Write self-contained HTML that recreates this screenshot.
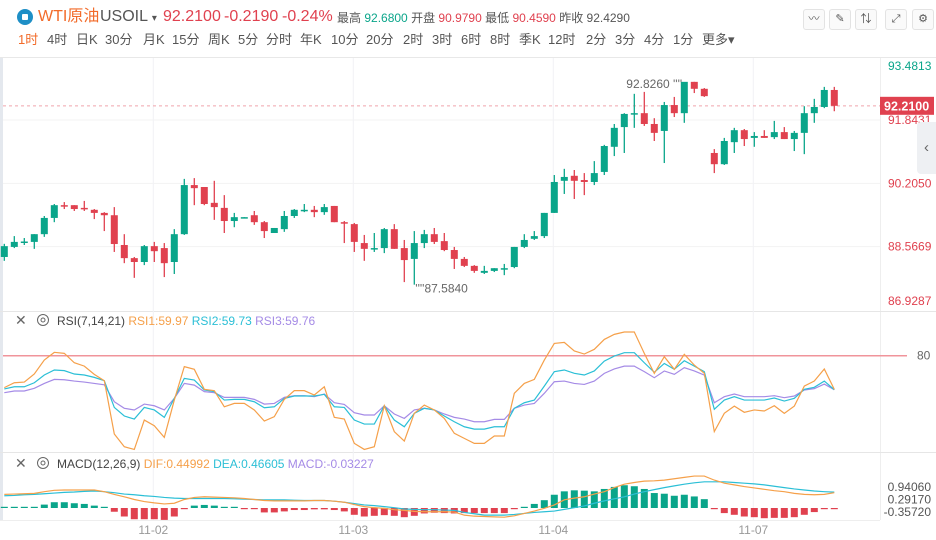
<!DOCTYPE html>
<html><head><meta charset="utf-8">
<style>
body{margin:0;width:936px;height:540px;overflow:hidden;background:#fff;font-family:"Liberation Sans","Noto Sans CJK SC",sans-serif;}
#root{position:relative;width:936px;height:540px;}
.t{position:absolute;white-space:nowrap;line-height:20px;}
.tab{position:absolute;top:31px;font-size:13px;color:#555;line-height:18px;}
.ib{position:absolute;top:9px;width:20px;height:19px;border:1px solid #e3e3e3;border-radius:3px;background:#fafafa;font-size:11px;color:#555;text-align:center;line-height:19px;}
svg{position:absolute;left:0;top:0;}
</style></head><body>
<div id="root">
<div class="t" style="left:17px;top:9px;width:16px;height:16px;border-radius:50%;background:#1e8fc6;"><div style="position:absolute;left:5px;top:5px;width:6px;height:6px;background:#fff;border-radius:1px"></div></div>
<div class="t" style="left:38px;top:7px;font-size:16px;color:#f26b2a;">WTI原油</div>
<div class="t" style="left:100px;top:7px;font-size:16px;color:#555;">USOIL <span style="font-size:10px">▾</span></div>
<div class="t" style="left:163px;top:7px;font-size:16px;color:#e0414f;">92.2100</div>
<div class="t" style="left:224px;top:7px;font-size:16px;color:#e0414f;">-0.2190</div>
<div class="t" style="left:282px;top:7px;font-size:16px;color:#e0414f;">-0.24%</div>
<div class="t" style="left:337px;top:8px;font-size:12px;color:#555;">最高 <span style="color:#0aa58a">92.6800</span> 开盘 <span style="color:#e0414f">90.9790</span> 最低 <span style="color:#e0414f">90.4590</span> 昨收 <span style="color:#555">92.4290</span></div>
<div class="ib" style="left:803px">〰</div>
<div class="ib" style="left:829px">✎</div>
<div class="ib" style="left:855px">⇅</div>
<div class="ib" style="left:885px">⤢</div>
<div class="ib" style="left:912px">⚙</div>
<div id="tabs"></div>
<svg id="chart" width="936" height="540"></svg>
<div class="t" style="left:917px;top:122px;width:19px;height:52px;background:#eef0f3;border-radius:4px 0 0 4px;color:#666;font-size:15px;line-height:52px;text-align:center;">‹</div>
</div>
<script>
// ---- data ----
const tabLabels=["1时","4时","日K","30分","月K","15分","周K","5分","分时","年K","10分","20分","2时","3时","6时","8时","季K","12时","2分","3分","4分","1分","更多▾"];
const opens=[88.30,88.56,88.69,88.69,88.89,89.31,89.64,89.64,89.57,89.52,89.44,89.38,88.61,88.27,88.17,88.58,88.53,88.17,88.89,90.16,90.11,89.70,89.57,89.23,89.32,89.38,89.20,88.92,89.02,89.36,89.50,89.52,89.46,89.62,89.20,89.15,88.66,88.52,88.53,89.02,88.53,88.25,88.66,88.89,88.71,88.48,88.25,88.07,87.89,87.94,88.00,88.04,88.56,88.77,88.84,89.44,90.27,90.40,90.29,90.24,90.50,91.15,91.66,92.00,92.02,91.74,91.56,92.23,92.02,92.83,92.65,90.99,90.70,91.27,91.58,91.38,91.43,91.40,91.53,91.35,91.51,92.02,92.18,92.62];
const highs=[88.64,88.84,88.79,88.89,89.36,89.67,89.72,89.64,89.75,89.54,89.46,89.59,88.89,88.30,88.61,88.69,88.66,89.02,90.32,90.34,90.11,90.27,89.90,89.44,89.33,89.49,89.23,89.05,89.49,89.54,89.67,89.62,89.67,89.62,89.23,89.18,88.87,88.92,89.05,89.15,88.74,88.97,89.00,89.05,88.92,88.56,88.30,88.09,88.07,88.01,88.12,88.56,88.89,88.97,89.44,90.42,90.58,90.55,90.47,90.78,91.20,91.74,92.02,92.52,92.57,91.89,92.31,92.44,92.826,92.83,92.67,91.09,91.38,91.64,91.61,91.53,91.58,91.82,91.66,91.56,92.20,92.39,92.70,92.70];
const lows=[88.20,88.53,88.61,88.51,88.82,89.20,89.54,89.49,89.49,89.28,88.97,88.43,88.14,87.76,88.09,88.17,87.78,87.86,88.87,89.64,89.64,89.26,88.92,89.07,89.31,89.13,88.79,88.92,88.95,89.31,89.46,89.33,89.39,89.20,88.66,88.43,88.20,88.43,88.40,88.51,87.65,87.584,88.53,88.635,88.45,87.99,88.04,87.89,87.86,87.91,87.83,88.01,88.53,88.74,88.79,89.44,89.93,89.80,89.90,90.16,90.42,90.91,90.99,91.64,91.69,91.30,90.73,91.92,91.77,92.54,92.44,90.47,90.68,90.99,91.17,91.15,91.38,91.35,91.35,91.04,90.96,91.77,92.15,92.07];
const closes=[88.58,88.69,88.70,88.89,89.31,89.64,89.62,89.54,89.54,89.44,89.38,88.635,88.27,88.17,88.58,88.45,88.14,88.89,90.16,90.08,89.67,89.59,89.23,89.33,89.33,89.20,88.97,89.05,89.36,89.52,89.52,89.46,89.59,89.20,89.18,88.69,88.51,88.53,89.02,88.51,88.22,88.66,88.89,88.69,88.48,88.25,88.07,87.94,87.94,88.01,88.01,88.56,88.74,88.84,89.44,90.24,90.37,90.27,90.24,90.47,91.17,91.64,92.00,92.02,91.74,91.51,92.23,92.02,92.83,92.65,92.46,90.70,91.30,91.58,91.35,91.43,91.38,91.53,91.35,91.51,92.02,92.18,92.62,92.21];
const rsi1=[61.0,63.9,64.3,69.1,77.4,82.0,81.4,75.8,73.8,68.9,65.1,33.4,25.8,24.2,41.7,38.3,31.4,53.6,73.5,71.9,60.0,59.2,49.6,51.6,51.6,47.7,41.1,43.7,54.0,59.2,59.2,56.6,61.5,43.3,42.3,27.8,24.2,25.8,50.2,34.8,29.2,45.7,50.6,47.7,42.7,33.8,30.8,27.8,27.8,32.2,32.2,57.6,63.5,65.9,77.4,87.3,87.9,82.8,81.0,83.8,89.7,92.7,94.1,94.1,81.4,69.5,79.4,71.9,80.8,74.4,69.5,34.8,45.7,50.0,46.3,47.7,47.1,50.2,45.7,50.0,61.9,64.9,72.1,59.97];
const rsi2=[60.2,61.5,61.5,63.9,68.5,71.5,71.1,69.1,68.5,67.1,65.1,49.2,44.1,42.3,49.2,47.7,43.3,54.6,66.5,65.5,59.6,58.6,53.6,54.0,54.0,52.6,49.0,49.6,54.6,56.0,56.0,56.0,57.0,49.6,49.2,41.7,39.3,39.3,50.2,41.7,37.7,45.7,48.7,47.7,44.1,40.7,37.7,36.3,36.3,37.7,37.7,48.7,52.0,53.6,61.9,70.5,71.5,69.5,68.5,70.9,76.8,79.8,81.8,81.8,75.8,70.1,75.4,71.9,77.0,73.8,70.5,48.1,53.6,55.6,53.6,53.6,53.6,54.8,53.0,54.6,60.0,61.2,64.9,59.73];
const rsi3=[58.0,59.0,59.0,60.6,63.5,65.9,65.7,64.9,64.3,63.5,62.7,52.6,48.7,47.7,51.2,50.2,47.7,54.6,63.5,62.5,58.6,58.0,55.2,55.2,55.2,54.0,51.2,51.6,55.2,56.2,56.2,55.6,57.2,52.0,51.0,46.1,44.7,44.7,50.2,45.3,42.7,47.7,48.7,47.7,45.3,43.3,42.3,40.7,40.7,42.1,42.1,48.7,50.6,51.6,57.6,64.5,64.9,63.5,62.9,64.9,69.5,72.1,73.8,73.8,70.5,66.9,70.9,68.9,72.9,70.9,68.5,52.0,55.6,57.2,55.6,55.6,55.6,56.2,55.0,56.0,59.6,60.4,63.1,59.76];
const dif=[0.40,0.41,0.42,0.43,0.48,0.52,0.53,0.53,0.53,0.53,0.48,0.40,0.33,0.25,0.19,0.15,0.12,0.14,0.25,0.31,0.33,0.32,0.31,0.30,0.28,0.25,0.22,0.21,0.21,0.21,0.21,0.22,0.22,0.20,0.17,0.10,0.04,0.01,-0.01,-0.05,-0.07,-0.10,-0.11,-0.11,-0.11,-0.12,-0.21,-0.24,-0.25,-0.26,-0.27,-0.23,-0.16,-0.09,-0.01,0.09,0.24,0.29,0.33,0.41,0.48,0.60,0.70,0.75,0.79,0.80,0.82,0.86,0.90,0.94,0.94,0.82,0.73,0.68,0.63,0.59,0.55,0.51,0.48,0.43,0.40,0.39,0.40,0.45];
const dea=[0.36,0.37,0.39,0.40,0.42,0.44,0.46,0.47,0.49,0.50,0.48,0.45,0.41,0.39,0.36,0.34,0.31,0.29,0.28,0.28,0.28,0.28,0.28,0.27,0.26,0.25,0.24,0.24,0.24,0.23,0.22,0.22,0.22,0.20,0.17,0.13,0.09,0.07,0.04,0.01,-0.03,-0.04,-0.05,-0.05,-0.06,-0.07,-0.13,-0.17,-0.21,-0.21,-0.21,-0.19,-0.16,-0.13,-0.11,-0.09,-0.04,0.01,0.06,0.14,0.21,0.27,0.33,0.41,0.48,0.54,0.60,0.65,0.70,0.74,0.77,0.77,0.77,0.75,0.73,0.71,0.68,0.64,0.60,0.56,0.53,0.50,0.48,0.466];
const hist=[0.02,0.02,0.02,0.02,0.10,0.17,0.17,0.14,0.12,0.07,0.01,-0.11,-0.25,-0.33,-0.33,-0.33,-0.35,-0.25,-0.02,0.07,0.09,0.07,0.01,0.01,-0.01,-0.03,-0.13,-0.13,-0.10,-0.06,-0.06,-0.04,-0.04,-0.06,-0.10,-0.20,-0.25,-0.23,-0.21,-0.23,-0.27,-0.23,-0.16,-0.14,-0.15,-0.16,-0.15,-0.15,-0.15,-0.15,-0.15,-0.02,0.01,0.12,0.23,0.39,0.49,0.52,0.51,0.49,0.56,0.62,0.67,0.64,0.56,0.44,0.42,0.36,0.39,0.34,0.26,-0.02,-0.15,-0.20,-0.25,-0.27,-0.30,-0.29,-0.29,-0.27,-0.20,-0.12,-0.02,-0.03];
const priceTicks=[93.4813,91.8431,90.2050,88.5669,86.9287];
const priceTickColors=["#0aa58a","#e0414f","#e0414f","#e0414f","#e0414f"];
const dateLabels=["11-02","11-03","11-04","11-07"];
const dateIdx=[14.9,34.9,54.9,74.9];
const macdTicks=["0.94060","0.29170","-0.35720"];
const lastPrice=92.21, hiMark=92.826, loMark=87.584, rsiLevel=80;

// ---- scales ----
const X=i=>4.3+10*i;
const YP=p=>120+(91.8431-p)*38.66;
const YR=v=>355.7-(v-80)*1.68;
const YM=v=>508-v*34;
const G="#0aa58a",R="#e0414f",NS="http://www.w3.org/2000/svg";
const svg=document.getElementById('chart');
function el(tag,attrs,parent){const e=document.createElementNS(NS,tag);for(const k in attrs)e.setAttribute(k,attrs[k]);(parent||svg).appendChild(e);return e;}

// tabs
const tabX=[18,47,76,105,143,172,208,238,266,300,331,366,403,432,461,490,519,548,586,615,644,673,702];
const tabsEl=document.getElementById('tabs');
tabLabels.forEach((t,i)=>{const d=document.createElement('div');d.className='tab';d.style.left=tabX[i]+'px';d.textContent=t;if(i===0)d.style.color='#f26b2a';


tabsEl.appendChild(d);});

// frame
el('line',{x1:0,y1:57.5,x2:936,y2:57.5,stroke:'#e8e8e8'});
el('rect',{x:0,y:58,width:3,height:462,fill:'#e4e8ee'});
el('line',{x1:880.5,y1:58,x2:880.5,y2:520,stroke:'#eeeeee'});
el('line',{x1:0,y1:311.5,x2:936,y2:311.5,stroke:'#e6e6e6'});
el('line',{x1:0,y1:452.5,x2:936,y2:452.5,stroke:'#e6e6e6'});
el('line',{x1:0,y1:520.5,x2:880,y2:520.5,stroke:'#eeeeee'});
// grid
[1,2,3].forEach(i=>{const g=el('line',{x1:3,x2:880,y1:YP(priceTicks[i]),y2:YP(priceTicks[i]),stroke:'#f3f3f3'});

});
dateIdx.forEach((d,i)=>{const g=el('line',{x1:X(d),x2:X(d),y1:58,y2:520,stroke:'#f1f2f5'});


const t=el('text',{x:X(d),y:534,'text-anchor':'middle','font-size':12,fill:'#999'});t.textContent=dateLabels[i];

});
// price axis
priceTicks.forEach((p,i)=>{let y=Math.min(Math.max(YP(p),66),301);const t=el('text',{x:888,y:y+4,'font-size':12,fill:priceTickColors[i]});t.textContent=p.toFixed(4);

});
// last price line
const lp=el('line',{x1:3,x2:880,y1:YP(lastPrice),y2:YP(lastPrice),stroke:'#f0a5ac','stroke-dasharray':'3,3'});


const lr=el('rect',{x:880,y:YP(lastPrice)-9,width:54,height:18,fill:R});


const lt=el('text',{x:884,y:YP(lastPrice)+4.5,'font-size':12.5,fill:'#fff','font-weight':'bold'});lt.textContent=lastPrice.toFixed(4);
// candles
closes.forEach((c,i)=>{const o=opens[i],up=c>=o,col=up?G:R,x=X(i);
const w=el('line',{x1:x,x2:x,y1:YP(highs[i]),y2:YP(lows[i]),stroke:col,'stroke-width':1.3});


const top=YP(Math.max(o,c)),h=Math.max(YP(Math.min(o,c))-top,1.5);
const b=el('rect',{x:x-3.5,y:top,width:7,height:h,fill:col});

});
// hi/lo annotations
const hiI=highs.indexOf(hiMark),loI=lows.indexOf(loMark);
const ht=el('text',{x:X(hiI)-58,y:YP(hiMark)+6,'font-size':12,fill:'#666'});ht.textContent=hiMark.toFixed(4)+" ''''";


const lt2=el('text',{x:X(loI)+1,y:YP(loMark)+8,'font-size':12,fill:'#666'});lt2.textContent="''''"+loMark.toFixed(4);



// RSI
function icons(y){el('text',{x:15,y:y+5,'font-size':14,fill:'#666'}).textContent='✕';
el('circle',{cx:43,cy:y,r:5.5,fill:'none',stroke:'#666','stroke-width':1});el('circle',{cx:43,cy:y,r:2,fill:'none',stroke:'#666'});}
icons(320);
const rl=el('text',{x:57,y:325,'font-size':12});
[['RSI(7,14,21) ','#444'],['RSI1:59.97 ','#f5a04a'],['RSI2:59.73 ','#2bbfd6'],['RSI3:59.76','#a58be6']].forEach(([s,c])=>{const ts=el('tspan',{fill:c},rl);ts.textContent=s;});


const r80=el('line',{x1:3,x2:907,y1:YR(rsiLevel),y2:YR(rsiLevel),stroke:'#f0949b','stroke-width':1.5});


const r80t=el('text',{x:917,y:YR(rsiLevel)+4,'font-size':12,fill:'#666'});r80t.textContent=String(rsiLevel);
function poly(arr,ys,col,name){const p=el('polyline',{points:arr.map((v,i)=>X(i)+','+ys(v)).join(' '),fill:'none',stroke:col,'stroke-width':1.2});

}
poly(rsi3,YR,'#a58be6','rsi3-line');
poly(rsi2,YR,'#2bbfd6','rsi2-line');
poly(rsi1,YR,'#f5a04a','rsi1-line');

// MACD
icons(463);
const ml=el('text',{x:57,y:468,'font-size':12});
[['MACD(12,26,9) ','#444'],['DIF:0.44992 ','#f5a04a'],['DEA:0.46605 ','#2bbfd6'],['MACD:-0.03227','#a58be6']].forEach(([s,c])=>{const ts=el('tspan',{fill:c},ml);ts.textContent=s;});


hist.forEach((v,i)=>{const y0=YM(0),y1=YM(v);const h=Math.max(Math.abs(y1-y0),1.2);
const b=el('rect',{x:X(i)-3.5,y:v>=0?y0-h:y0,width:7,height:h,fill:v>=0?G:R});

});
poly(dea,YM,'#2bbfd6','dea-line');
poly(dif,YM,'#f5a04a','dif-line');
macdTicks.forEach((t,i)=>{const e=el('text',{x:931,y:491+i*12.5,'text-anchor':'end','font-size':12,fill:'#555'});e.textContent=t;

});
</script>
</body></html>
